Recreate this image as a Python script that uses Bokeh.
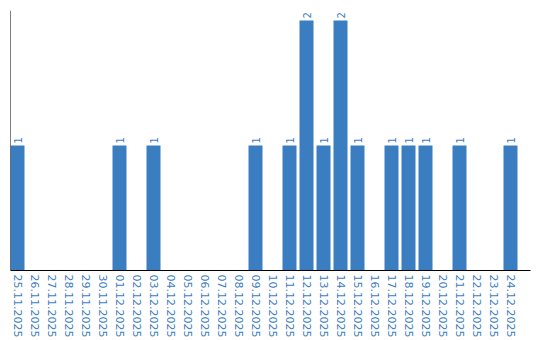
from bokeh.plotting import figure
from bokeh.models import Range1d, FixedTicker, Span, ColumnDataSource
from bokeh.core.properties import value
from bokeh.embed import file_html
from bokeh.resources import INLINE
import math

dates = ["25.11.2025", "26.11.2025", "27.11.2025", "28.11.2025", "29.11.2025", "30.11.2025",
         "01.12.2025", "02.12.2025", "03.12.2025", "04.12.2025", "05.12.2025", "06.12.2025",
         "07.12.2025", "08.12.2025", "09.12.2025", "10.12.2025", "11.12.2025", "12.12.2025",
         "13.12.2025", "14.12.2025", "15.12.2025", "16.12.2025", "17.12.2025", "18.12.2025",
         "19.12.2025", "20.12.2025", "21.12.2025", "22.12.2025", "23.12.2025", "24.12.2025"]
counts = [1, 0, 0, 0, 0, 0, 1, 0, 1, 0, 0, 0, 0, 0, 1, 0, 1, 2, 1, 2, 1, 0, 1, 1, 1, 0, 1, 0, 0, 1]

BLUE = "#3b7dc1"
idx = list(range(len(dates)))
x_start = -7 / 17
x_end = x_start + 520 / 17

src = ColumnDataSource(dict(x=idx, top=counts))
nz = [i for i, c in enumerate(counts) if c > 0]
lab = ColumnDataSource(dict(x=nz, y=[counts[i] for i in nz], t=[str(counts[i]) for i in nz]))

p = figure(frame_width=520, frame_height=260, output_backend="svg", toolbar_location=None,
           x_range=Range1d(x_start, x_end), y_range=Range1d(0, 2.08),
           y_axis_location=None, min_border_left=10, min_border_right=10,
           min_border_top=10, min_border_bottom=0)
p.outline_line_color = None
p.grid.visible = False

p.vbar(x="x", top="top", width=14 / 17, bottom=0, source=src, color=BLUE, line_color=None)
p.text(x="x", y="y", text="t", source=lab, angle=math.pi / 2, text_align="left",
       text_baseline="middle", y_offset=-2, text_color=BLUE, text_font_size="10px",
       text_font=value("DejaVu Sans"))

p.xaxis.ticker = FixedTicker(ticks=idx)
p.xaxis.major_label_overrides = {i: d for i, d in enumerate(dates)}
p.xaxis.major_label_orientation = "vertical"
p.xaxis.major_tick_out = 0
p.xaxis.major_tick_in = 0
p.xaxis.minor_tick_out = 0
p.xaxis.major_label_standoff = 4
p.xaxis.major_label_text_color = BLUE
p.xaxis.major_label_text_font = "DejaVu Sans"
p.xaxis.major_label_text_font_size = "11px"
p.xaxis.axis_line_color = "black"

p.add_layout(Span(location=x_start, dimension="height", line_color="black", line_width=1))

open("out.html", "w").write(file_html(p, INLINE))
